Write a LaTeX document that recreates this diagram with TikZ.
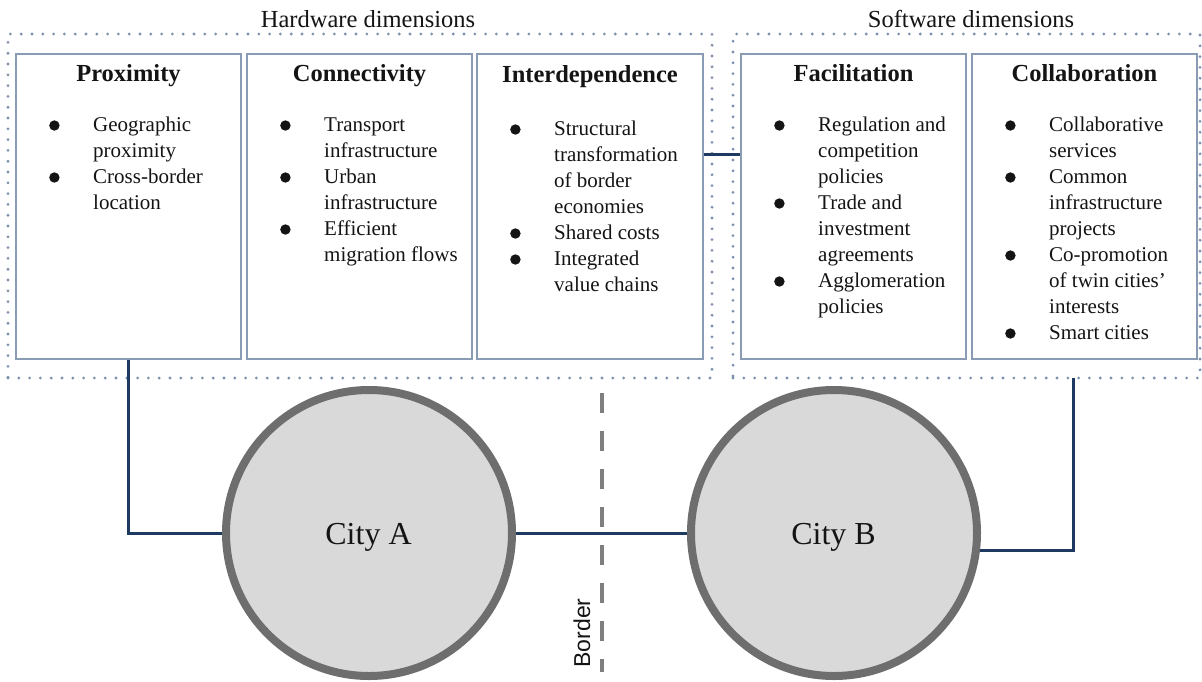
\documentclass[tikz,border=0pt]{standalone}
\usepackage{fontspec}
\setmainfont{Liberation Serif}
\newfontfamily\bordersans{Liberation Sans}
\usetikzlibrary{calc}
\definecolor{conncol}{HTML}{1F3A60}
\definecolor{boxcol}{HTML}{8A9CB4}
\definecolor{dotcol}{HTML}{7D90AE}
\definecolor{cityfill}{HTML}{D9D9D9}
\definecolor{citydraw}{HTML}{6E6E6E}
\definecolor{dashcol}{HTML}{7F7F7F}
\definecolor{txt}{HTML}{141414}
\newcommand\bul{\tikz[baseline=-5.5pt]\fill[txt] (0,0) circle (5.2pt);}
\tikzset{
  dimbox/.style={draw=boxcol, line width=1.3pt, minimum width=225pt, minimum height=305pt, inner sep=0pt},
  groupbox/.style={draw=dotcol, line width=3.1pt, line cap=round, dash pattern=on 0pt off 10.8pt, minimum height=344pt, inner sep=0pt},
  head/.style={font=\fontsize{24.5}{28}\selectfont\bfseries, text=txt, anchor=base, inner sep=0pt},
  toplabel/.style={font=\fontsize{24.5}{28}\selectfont, text=txt, anchor=base, inner sep=0pt},
  itemlist/.style={font=\fontsize{21}{26}\selectfont, text=txt, anchor=base west, inner sep=0pt, align=left},
  city/.style={circle, fill=cityfill, draw=citydraw, line width=8pt, minimum size=286pt, font=\fontsize{32}{36}\selectfont, text=txt},
  conn/.style={draw=conncol, line width=3pt},
  borderline/.style={draw=dashcol, line width=4.5pt, dash pattern=on 20pt off 18pt}
}
\begin{document}
\begin{tikzpicture}[x=1pt,y=-1pt]
\useasboundingbox (0,0) rectangle (1202,681);
% group boxes
\node[groupbox, minimum width=704pt] (hw) at (360,206) {};
\node[groupbox, minimum width=467pt] (sw) at (966.5,206) {};
\node[toplabel] (hwlbl) at (368,27.5) {Hardware dimensions};
\node[toplabel] (swlbl) at (971,27.5) {Software dimensions};
% dimension boxes
\node[dimbox, fill=white] (prox) at (128.5,206.5) {};
\node[dimbox, fill=white] (conn) at (359.5,206.5) {};
\node[dimbox, fill=white, minimum width=226pt] (inter) at (590,206.5) {};
\node[dimbox, fill=white] (facil) at (853.5,206.5) {};
\node[dimbox, fill=white] (collab) at (1084.5,206.5) {};
% headings
\node[head] (proxh) at (128.5,81) {Proximity};
\node[head] (connh) at (359.5,81) {Connectivity};
\node[head] (interh) at (590,82) {Interdependence};
\node[head] (facilh) at (853.5,81) {Facilitation};
\node[head] (collabh) at (1084.5,81) {Collaboration};
% lists
\node[itemlist] (proxl) at (49,131) {\begin{tabular}[t]{@{}p{44pt}@{}l@{}}
\bul & Geographic\\ & proximity\\ \bul & Cross-border\\ & location\end{tabular}};
\node[itemlist] (connl) at (280,131) {\begin{tabular}[t]{@{}p{44pt}@{}l@{}}
\bul & Transport\\ & infrastructure\\ \bul & Urban\\ & infrastructure\\ \bul & Efficient\\ & migration flows\end{tabular}};
\node[itemlist] (interl) at (510,135) {\begin{tabular}[t]{@{}p{44pt}@{}l@{}}
\bul & Structural\\ & transformation\\ & of border\\ & economies\\ \bul & Shared costs\\ \bul & Integrated\\ & value chains\end{tabular}};
\node[itemlist] (facill) at (774,131) {\begin{tabular}[t]{@{}p{44pt}@{}l@{}}
\bul & Regulation and\\ & competition\\ & policies\\ \bul & Trade and\\ & investment\\ & agreements\\ \bul & Agglomeration\\ & policies\end{tabular}};
\node[itemlist] (collabl) at (1005,131) {\begin{tabular}[t]{@{}p{44pt}@{}l@{}}
\bul & Collaborative\\ & services\\ \bul & Common\\ & infrastructure\\ & projects\\ \bul & Co-promotion\\ & of twin cities'\\ & interests\\ \bul & Smart cities\end{tabular}};
% cities
\node[city] (A) at (369,533) {};
\node[city] (B) at (834,533) {};
\node[font=\fontsize{32}{36}\selectfont, text=txt, anchor=base, inner sep=0pt] (Alab) at (368.5,544) {City A};
\node[font=\fontsize{32}{36}\selectfont, text=txt, anchor=base, inner sep=0pt] (Blab) at (833.5,544) {City B};
% border
\coordinate (bt) at (602,393);
\coordinate (bb) at (602,672);
\draw[borderline] (bt) -- (bb);
\node[rotate=90, font=\bordersans\fontsize{23}{26}\selectfont, text=txt, inner sep=0pt] (borderlbl) at (582,633) {Border};
% connectors
\coordinate (ylink) at (0,154);
\coordinate (swdrop) at (1073,378);
\draw[conn] (prox.south) |- (A.west);
\draw[conn] (A.east) -- (B.west);
\draw[conn] (B.-7.5) -| (swdrop);
\draw[conn] (inter.east |- ylink) -- (facil.west |- ylink);
\end{tikzpicture}
\end{document}
